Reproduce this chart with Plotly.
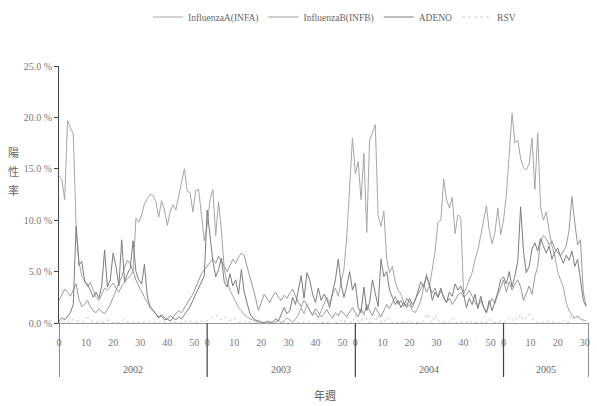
import plotly.graph_objects as go

years = ["2002", "2003", "2004", "2005"]
weeks_per_year = [52, 52, 52, 30]
week_labels = [[0, 10, 20, 30, 40, 50], [0, 10, 20, 30, 40, 50], [0, 10, 20, 30, 40, 50], [0, 10, 20, 30]]

infa_2002 = [14.3, 14.0, 12.0, 19.7, 19.0, 18.4, 9.4, 6.0, 4.5, 4.2, 3.5, 4.0, 3.2, 2.5, 2.2, 2.8, 3.4, 3.2, 3.6, 3.9,
             3.4, 3.0, 3.6, 4.0, 4.3, 4.6, 5.0, 10.2, 9.8, 10.5, 11.6, 12.1, 12.5, 12.4, 11.8, 10.3, 11.9, 11.0, 9.5, 10.8,
             11.5, 11.0, 12.3, 13.5, 15.0, 12.8, 12.7, 10.8, 12.9, 13.0, 10.5, 8.0]
infa_2003 = [9.5, 12.0, 13.0, 8.5, 11.8, 9.0, 5.2, 4.0, 3.2, 2.6, 2.0, 1.5, 1.2, 0.8, 0.6, 0.4, 0.3, 0.2, 0.1, 0.0,
             0.1, 0.0, 0.2, 0.0, 0.1, 0.3, 0.0, 0.2, 0.5, 0.3, 0.1, 0.4, 0.8, 1.5, 0.9, 1.8, 1.2, 0.7, 1.0, 0.5,
             1.2, 1.8, 2.5, 1.9, 2.8, 3.4, 2.6, 4.0, 5.2, 8.5, 13.0, 18.0]
infa_2004 = [14.5, 15.7, 12.0, 16.5, 8.8, 17.8, 18.5, 19.3, 10.4, 9.4, 10.9, 6.2, 4.9, 5.5, 4.0, 3.2, 2.8, 2.0, 1.5, 1.8,
             1.2, 1.0, 1.5, 2.2, 3.5, 4.8, 3.5, 5.5, 7.0, 9.8, 10.0, 14.0, 12.0, 11.2, 12.2, 8.7, 10.5, 10.3, 2.8, 3.5,
             4.2, 4.9, 6.2, 7.1, 8.5, 9.8, 11.4, 9.0, 7.7, 8.8, 11.2, 8.6]
infa_2005 = [10.0, 12.5, 17.0, 20.4, 17.5, 17.8, 16.0, 15.1, 14.9, 15.5, 18.0, 13.0, 18.5, 11.3, 10.0, 10.8, 9.0, 7.5,
             6.5, 5.0, 4.2, 3.5, 2.0, 1.2, 0.8, 0.5, 0.6, 0.4, 0.3, 0.2]

infb_2002 = [2.2, 2.8, 3.3, 3.0, 2.6, 3.2, 3.8, 2.3, 1.6, 1.8, 2.2, 1.6, 1.2, 1.0, 1.4, 1.1, 0.9, 1.3, 1.8, 2.5,
             3.2, 3.8, 4.5, 5.4, 6.1, 5.8, 4.9, 4.2, 3.6, 3.0, 2.5, 2.0, 1.6, 1.2, 0.9, 0.6, 0.8, 0.5, 0.4, 0.7,
             0.5, 0.9, 1.2, 1.0, 1.5, 1.9, 2.4, 2.8, 3.5, 4.2, 4.8, 5.2]
infb_2003 = [5.6, 5.9, 6.2, 5.8, 6.5, 6.0, 5.4, 5.0, 5.6, 6.2, 5.8, 6.4, 6.8, 6.6, 5.5, 4.6, 3.5, 2.4, 1.2, 2.0,
             2.8, 2.4, 2.0, 2.6, 3.0, 2.5, 2.2, 2.7, 2.4, 2.9, 3.3, 2.6, 2.0, 1.6, 2.2, 1.8, 1.2, 0.8, 1.4, 1.0,
             0.6, 0.9, 1.3, 0.8, 0.5, 1.0, 0.7, 1.2, 0.9, 0.6, 1.1, 1.5]
infb_2004 = [1.0, 0.6, 1.4, 0.8, 1.8, 1.2, 0.7, 1.5, 1.0, 0.6, 1.2, 1.8, 1.4, 2.0, 2.6, 1.8, 2.2, 1.6, 2.4, 2.0,
             1.5, 2.3, 2.8, 3.2, 3.8, 3.0, 3.6, 2.9, 3.4, 2.5, 3.1, 2.6, 2.0, 2.4, 1.8, 2.2, 2.7, 3.0, 2.5, 2.8,
             3.2, 2.6, 2.0, 1.6, 2.2, 1.5, 1.0, 1.8, 2.4, 1.9, 2.8, 3.4]
infb_2005 = [4.2, 3.0, 4.0, 3.2, 3.8, 4.2, 3.5, 2.2, 3.0, 3.6, 2.8, 4.5, 5.5, 8.0, 8.5, 8.2, 7.6, 8.0, 7.2, 6.8,
             6.5, 7.0, 7.5, 9.0, 12.3, 9.8, 7.6, 8.1, 3.0, 1.7]

adeno_2002 = [0.2, 0.5, 0.3, 0.6, 1.0, 1.8, 9.4, 5.6, 6.0, 4.0, 3.8, 3.2, 2.5, 3.0, 2.4, 3.6, 7.1, 3.5, 4.2, 6.8,
              5.5, 3.6, 8.1, 4.0, 4.8, 5.3, 8.0, 5.0, 4.2, 3.8, 5.7, 2.6, 1.5, 1.2, 0.8, 0.5, 0.7, 0.3, 0.4, 0.2,
              0.5, 0.3, 0.6, 0.4, 0.8, 1.2, 1.6, 2.2, 2.8, 3.5, 4.0, 4.6]
adeno_2003 = [11.0, 8.5, 6.0, 4.5, 5.2, 6.3, 4.0, 3.5, 4.8, 3.6, 4.2, 2.8, 5.2, 3.0, 1.8, 0.9, 0.5, 0.3, 0.2, 0.1,
              0.0, 0.2, 0.0, 0.1, 0.4, 0.2, 0.8, 1.5, 0.9, 1.2, 2.5, 1.8, 3.2, 4.6, 2.4, 4.9, 4.2, 2.8, 2.0, 3.4,
              2.2, 2.8, 2.3, 1.5, 3.0, 4.2, 6.2, 3.8, 2.5, 3.6, 5.0, 3.2]
adeno_2004 = [3.9, 1.5, 1.0, 3.5, 1.2, 2.0, 4.2, 2.8, 1.6, 6.2, 4.5, 5.0, 3.2, 2.5, 1.8, 2.2, 1.5, 2.0, 1.6, 2.4,
              1.8, 2.2, 3.0, 4.0, 3.5, 4.5, 3.8, 2.2, 3.0, 2.5, 3.4, 2.4, 2.0, 3.0, 2.6, 3.8, 3.2, 3.6, 2.8, 1.5,
              2.4, 1.8, 2.8, 1.4, 2.6, 1.6, 1.0, 2.2, 1.2, 2.0, 3.0, 4.2]
adeno_2005 = [4.5, 3.8, 5.0, 3.5, 4.6, 6.0, 11.3, 7.0, 4.9, 5.5, 7.2, 7.8, 7.0, 8.2, 7.4, 6.8, 7.5, 6.2, 6.9, 7.3,
              6.5, 5.8, 6.6, 6.1, 7.0, 5.5, 6.2, 4.0, 2.2, 1.6]

rsv_2002 = [0.0, 0.3, 0.5, 0.2, 0.0, 0.4, 0.3, 0.1, 0.0, 0.2, 0.5, 0.3, 0.1, 0.0, 0.2, 0.1, 0.0, 0.3, 0.2, 0.0,
            0.1, 0.0, 0.2, 0.4, 0.1, 0.0, 0.0, 0.2, 0.0, 0.1, 0.0, 0.0, 0.2, 0.1, 0.0, 0.0, 0.3, 0.1, 0.0, 0.0,
            0.2, 0.0, 0.1, 0.0, 0.0, 0.3, 0.2, 0.0, 0.1, 0.0, 0.2, 0.1]
rsv_2003 = [0.2, 0.4, 0.6, 0.8, 0.5, 0.3, 0.6, 0.4, 0.2, 0.5, 0.3, 0.1, 0.0, 0.2, 0.0, 0.1, 0.0, 0.0, 0.2, 0.0,
            0.0, 0.1, 0.0, 0.0, 0.0, 0.2, 0.0, 0.1, 0.0, 0.0, 0.0, 0.3, 0.0, 0.1, 0.0, 0.0, 0.2, 0.0, 0.0, 0.4,
            0.1, 0.0, 0.0, 0.2, 0.5, 0.1, 0.0, 0.3, 0.0, 0.6, 0.2, 0.0]
rsv_2004 = [0.8, 0.2, 0.0, 0.9, 0.3, 0.0, 0.5, 0.2, 0.8, 0.1, 0.0, 0.6, 0.3, 0.0, 0.2, 0.0, 0.1, 0.0, 0.0, 0.3,
            0.0, 0.1, 0.0, 0.0, 0.2, 0.9, 0.3, 0.0, 0.8, 0.4, 0.0, 0.1, 0.0, 0.0, 0.5, 0.1, 0.0, 0.2, 0.0, 0.0,
            0.3, 0.0, 0.1, 0.0, 0.0, 0.2, 0.0, 0.4, 0.0, 0.1, 0.0, 0.2]
rsv_2005 = [0.0, 0.3, 0.5, 0.2, 0.6, 0.3, 0.8, 0.2, 0.5, 0.9, 0.4, 0.2, 0.0, 0.1, 0.0, 0.0, 0.2, 0.0, 0.1, 0.0,
            0.0, 0.3, 0.0, 0.1, 0.8, 0.3, 0.9, 0.4, 0.2, 0.0]

y_ticks = [0, 5, 10, 15, 20, 25]
y_ticklabels = ["0.0 %", "5.0 %", "10.0 %", "15.0 %", "20.0 %", "25.0 %"]
y_title_chars = ["陽", "性", "率"]

infa = infa_2002 + infa_2003 + infa_2004 + infa_2005
infb = infb_2002 + infb_2003 + infb_2004 + infb_2005
adeno = adeno_2002 + adeno_2003 + adeno_2004 + adeno_2005
rsv = rsv_2002 + rsv_2003 + rsv_2004 + rsv_2005

offsets = [0]
for n in weeks_per_year:
    offsets.append(offsets[-1] + n)
total = offsets[-1]
x = list(range(total))

W, H = 597, 406
ML, MR, MT, MB = 59, 8, 66, 83
PW, PH = W - ML - MR, H - MT - MB


def px(xp):
    return (xp - ML) / PW


def py(yp):
    return (H - MB - yp) / PH


FONT = "Liberation Serif"
CJK = "Noto Sans CJK TC"
fig = go.Figure()
series = [
    ("InfluenzaA(INFA)", infa, "#a6a6a6", "solid"),
    ("InfluenzaB(INFB)", infb, "#999999", "solid"),
    ("ADENO", adeno, "#7c7c7c", "solid"),
    ("RSV", rsv, "#c8c8c8", "dot"),
]
for name, vals, col, dash in series:
    fig.add_trace(go.Scatter(x=x, y=vals, mode="lines", name=name,
                             line=dict(color=col, width=1, dash=dash)))

tickvals, ticktext = [], []
for off, labs in zip(offsets[:-1], week_labels):
    for w in labs:
        tickvals.append(off + w * 0.95)
        ticktext.append(str(w))

shapes = []
for b in offsets:
    shapes.append(dict(type="line", xref="x", yref="paper", x0=b, x1=b, y0=0, y1=py(377),
                       line=dict(color="#444", width=1.2)))

annotations = []
for i, yr in enumerate(years):
    annotations.append(dict(x=(offsets[i] + offsets[i + 1]) / 2, y=py(369), xref="x", yref="paper",
                            xanchor="center", yanchor="middle",
                            text=yr, showarrow=False, font=dict(family=FONT, size=10, color="#666")))
annotations.append(dict(x=px(325), y=py(395), xref="paper", yref="paper", xanchor="center", yanchor="middle",
                        text="年週", showarrow=False, font=dict(family=CJK, size=11, color="#555")))
for k, ch in enumerate(y_title_chars):
    annotations.append(dict(x=px(13), y=py(152 + 19 * k), xref="paper", yref="paper",
                            xanchor="center", yanchor="middle", text=ch, showarrow=False,
                            font=dict(family=CJK, size=11, color="#666")))

fig.update_layout(
    width=W, height=H,
    margin=dict(l=ML, r=MR, t=MT, b=MB, autoexpand=False),
    paper_bgcolor="white", plot_bgcolor="white",
    font=dict(family=FONT, size=10, color="#666"),
    showlegend=True,
    legend=dict(orientation="h", x=px(148), y=py(17), xanchor="left", yanchor="middle",
                font=dict(family=FONT, size=9.5, color="#666"), itemwidth=30,
                bgcolor="rgba(0,0,0,0)"),
    xaxis=dict(range=[0, total], tickmode="array", tickvals=tickvals, ticktext=ticktext,
               showgrid=False, zeroline=False, showline=True, linecolor="#999", linewidth=1,
               ticks="", ticklabelstandoff=10, tickfont=dict(family=FONT, size=10, color="#777")),
    yaxis=dict(range=[0, 25], tickmode="array", tickvals=y_ticks, ticktext=y_ticklabels,
               showgrid=False, zeroline=False, showline=True, linecolor="#444", linewidth=1,
               ticks="outside", ticklen=4, tickcolor="#444",
               tickfont=dict(family=FONT, size=10, color="#777")),
    shapes=shapes, annotations=annotations,
)
fig.write_html("out.html", config={"displayModeBar": False},
               post_script="document.body.style.margin='0px';document.body.style.padding='0px';")
